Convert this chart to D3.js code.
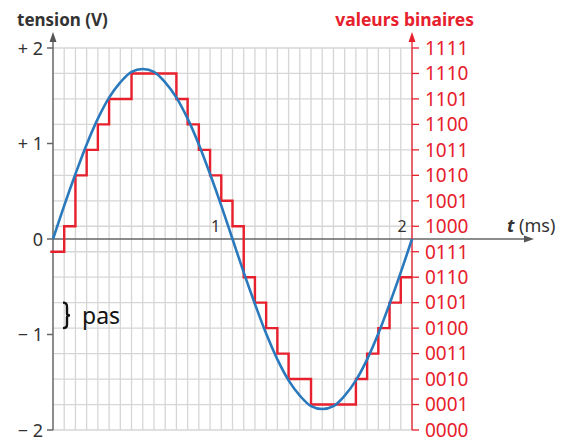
<!DOCTYPE html>
<html>
<head>
<meta charset="utf-8">
<script src="https://cdn.jsdelivr.net/npm/d3@7"></script>
<style>
  html, body { margin: 0; padding: 0; background: #fff; }
  svg { display: block; font-family: "Noto Sans", "Open Sans", sans-serif; }
</style>
</head>
<body>
<svg id="chart" width="571" height="438"></svg>
<script>
// valeurs
const voltTicks = [-2, -1, 0, 1, 2];
const voltLabels = ['\u2212 2', '\u2212 1', '0', '+ 1', '+ 2'];
const timeTicks = [1, 2];
const binaryLabels = ['0000', '0001', '0010', '0011', '0100', '0101', '0110', '0111',
  '1000', '1001', '1010', '1011', '1100', '1101', '1110', '1111'];

// signal analogique (V), un point tous les 1/16 ms
const signalTimes = d3.range(33).map(k => k / 16);
const signalVolts = [0, 0.35, 0.68, 0.99, 1.26, 1.48, 1.64, 1.75, 1.78, 1.75, 1.64, 1.48, 1.26, 0.99, 0.68, 0.35,
  0, -0.35, -0.68, -0.99, -1.26, -1.48, -1.64, -1.75, -1.78, -1.75, -1.64, -1.48, -1.26, -0.99, -0.68, -0.35, 0];

// signal numérisé : niveau (0..15) pour chaque pas d'échantillonnage
const sampleTimes = d3.range(32).map(k => k / 16);
const sampleLevels = [7, 8, 10, 11, 12, 13, 13, 14, 14, 14, 14, 13, 12, 11, 10, 9,
  8, 6, 5, 4, 3, 2, 2, 1, 1, 1, 1, 2, 3, 4, 5, 6];

const svg = d3.select('#chart');
const red = '#e6202c', blue = '#2a79bd', grey = '#d6d6d6', ink = '#333';

const x = d3.scaleLinear().domain([0, 2]).range([53, 412]);
const y = d3.scaleLinear().domain([-2, 2]).range([430, 48]);
const yl = d3.scaleLinear().domain([0, 15]).range([430, 48]);

// quadrillage
const grid = svg.append('g').attr('stroke', grey).attr('stroke-width', 1.3);
grid.selectAll('line.v').data(d3.range(1, 33).map(k => k / 16)).join('line')
  .attr('class', 'v')
  .attr('x1', d => x(d)).attr('x2', d => x(d))
  .attr('y1', y(2)).attr('y2', y(-2));
grid.selectAll('line.h').data(d3.range(16)).join('line')
  .attr('class', 'h')
  .attr('x1', x(0)).attr('x2', x(2))
  .attr('y1', d => yl(d)).attr('y2', d => yl(d));

// axe des temps
svg.append('line')
  .attr('x1', x(0)).attr('x2', 527)
  .attr('y1', y(0)).attr('y2', y(0))
  .attr('stroke', '#666').attr('stroke-width', 1.5);
svg.append('path').attr('d', 'M534,' + y(0) + 'l-10,-3.5l0,7z').attr('fill', '#555');

svg.selectAll('text.tt').data(timeTicks).join('text')
  .attr('class', 'tt')
  .attr('x', d => x(d) - (d === 1 ? 17 : 10))
  .attr('y', y(0) - 7)
  .attr('text-anchor', 'middle')
  .attr('font-size', 16).attr('fill', ink)
  .text(d => d);

const tl = svg.append('text').attr('x', 507).attr('y', 232).attr('font-size', 18).attr('fill', ink);
tl.append('tspan').attr('font-weight', 'bold').attr('font-style', 'italic').text('t');
tl.append('tspan').text(' (ms)');

// axe de gauche (tension)
svg.append('line')
  .attr('x1', x(0)).attr('x2', x(0))
  .attr('y1', y(-2)).attr('y2', 40)
  .attr('stroke', '#666').attr('stroke-width', 1.5);
svg.append('path').attr('d', 'M' + x(0) + ',32l-3.5,10l7,0z').attr('fill', '#555');
svg.selectAll('line.lt').data(voltTicks).join('line')
  .attr('class', 'lt')
  .attr('x1', x(0) - 6).attr('x2', x(0))
  .attr('y1', d => y(d)).attr('y2', d => y(d))
  .attr('stroke', '#666').attr('stroke-width', 1.5);
svg.selectAll('text.ll').data(voltTicks).join('text')
  .attr('class', 'll')
  .attr('x', 43).attr('y', d => y(d) + 6.5)
  .attr('text-anchor', 'end')
  .attr('font-size', 18).attr('fill', ink)
  .text((d, i) => voltLabels[i]);

svg.append('text').attr('x', 17).attr('y', 26)
  .attr('font-size', 17).attr('font-weight', 'bold').attr('fill', ink)
  .text('tension (V)');

// axe de droite (valeurs binaires)
svg.append('line')
  .attr('x1', x(2)).attr('x2', x(2))
  .attr('y1', yl(0)).attr('y2', 40)
  .attr('stroke', red).attr('stroke-width', 1.3);
svg.append('path').attr('d', 'M' + x(2) + ',32l-3.5,10l7,0z').attr('fill', red);
svg.selectAll('line.rt').data(d3.range(16)).join('line')
  .attr('class', 'rt')
  .attr('x1', x(2)).attr('x2', x(2) + 7)
  .attr('y1', d => yl(d)).attr('y2', d => yl(d))
  .attr('stroke', red).attr('stroke-width', 1.3);
svg.selectAll('text.rl').data(d3.range(16)).join('text')
  .attr('class', 'rl')
  .attr('x', 425).attr('y', d => yl(d) + 6.8)
  .attr('font-size', 19).attr('fill', red)
  .text(d => binaryLabels[d]);

svg.append('text').attr('x', 474).attr('y', 26)
  .attr('text-anchor', 'end')
  .attr('font-size', 17.5).attr('font-weight', 'bold').attr('fill', red)
  .text('valeurs binaires');

// signal numérisé (escalier)
const steps = sampleTimes.map((t, i) => [t, sampleLevels[i]]);
steps.unshift([-0.015, sampleLevels[0]]);
steps.push([2, sampleLevels[sampleLevels.length - 1]]);
svg.append('path')
  .datum(steps)
  .attr('fill', 'none').attr('stroke', red).attr('stroke-width', 2.4)
  .attr('d', d3.line().x(d => x(d[0])).y(d => yl(d[1])).curve(d3.curveStepAfter));

// signal analogique
svg.append('path')
  .datum(signalTimes.map((t, i) => [t, signalVolts[i]]))
  .attr('fill', 'none').attr('stroke', blue).attr('stroke-width', 2.6)
  .attr('d', d3.line().x(d => x(d[0])).y(d => y(d[1])).curve(d3.curveCatmullRom));

// pas
const b0 = yl(5), b1 = yl(4), bx = 63, bm = (b0 + b1) / 2;
svg.append('path')
  .attr('d', `M${bx},${b0} q4,0 4,4 l0,${bm - b0 - 6} q0,2 3,2 q-3,0 -3,2 l0,${b1 - bm - 6} q0,4 -4,4`)
  .attr('fill', 'none').attr('stroke', '#111').attr('stroke-width', 2.4);
svg.append('text').attr('x', 82).attr('y', 324)
  .attr('font-size', 23).attr('fill', '#111')
  .text('pas');
</script>
</body>
</html>
